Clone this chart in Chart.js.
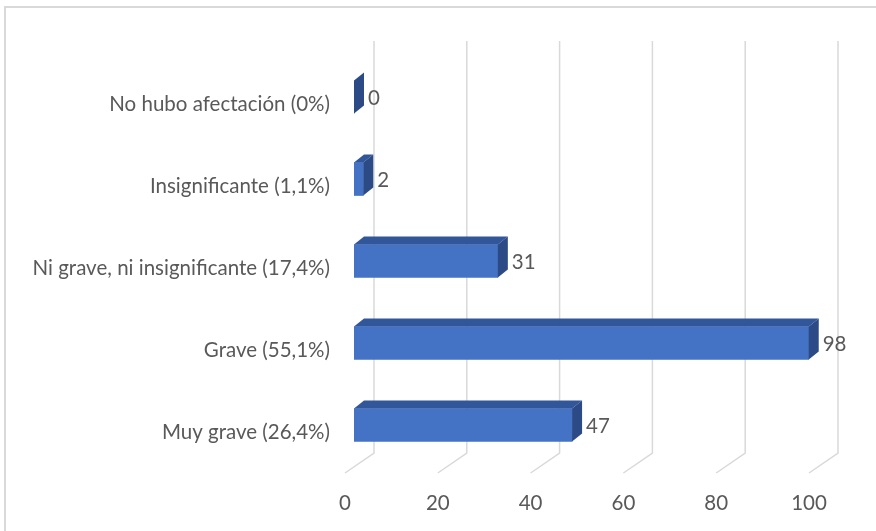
<!DOCTYPE html>
<html>
<head>
<meta charset="utf-8">
<script src="https://cdn.jsdelivr.net/npm/chart.js@4.4.0/dist/chart.umd.min.js"></script>
<style>
  html, body { margin: 0; padding: 0; background: #fff; }
  canvas { display: block; }
</style>
</head>
<body>
<canvas id="myChart" width="876" height="531"></canvas>
<script>
// datos
const categories = [
  'No hubo afectación (0%)',
  'Insignificante (1,1%)',
  'Ni grave, ni insignificante (17,4%)',
  'Grave (55,1%)',
  'Muy grave (26,4%)'
];
const values = [0, 2, 31, 98, 47];
const xTicks = [0, 20, 40, 60, 80, 100];

const textColor = '#595959';
const gridColor = '#d9d9d9';
const fontSize = 20.5;
const depthX = 10, depthY = 8;      // profundidad de las barras
const backX = 20, floorX = -9;      // desplazamiento de la rejilla 3D

// Dibuja el marco, la rejilla en perspectiva y las caras 3D de las barras
const fake3d = {
  id: 'fake3d',
  beforeDraw(chart) {
    const ctx = chart.ctx;
    ctx.save();
    ctx.strokeStyle = gridColor;
    ctx.lineWidth = 2;
    ctx.beginPath();
    ctx.moveTo(5, 531);
    ctx.lineTo(5, 7);
    ctx.lineTo(876, 7);
    ctx.stroke();
    ctx.restore();
  },
  beforeDatasetsDraw(chart) {
    const ctx = chart.ctx;
    const x = chart.scales.x;
    ctx.save();
    ctx.strokeStyle = gridColor;
    ctx.lineWidth = 1.5;
    xTicks.forEach(v => {
      const px = x.getPixelForValue(v);
      ctx.beginPath();
      ctx.moveTo(px + backX, 41);
      ctx.lineTo(px + backX, 453);
      ctx.lineTo(px + floorX, 473);
      ctx.stroke();
    });
    ctx.restore();
  },
  afterDatasetsDraw(chart) {
    const ctx = chart.ctx;
    const meta = chart.getDatasetMeta(0);
    ctx.save();
    meta.data.forEach((bar, i) => {
      const top = bar.y - bar.height / 2;
      const bottom = bar.y + bar.height / 2;
      const x0 = bar.base, x1 = bar.x;
      // cara superior
      ctx.fillStyle = '#32569a';
      ctx.beginPath();
      ctx.moveTo(x0, top);
      ctx.lineTo(x1, top);
      ctx.lineTo(x1 + depthX, top - depthY);
      ctx.lineTo(x0 + depthX, top - depthY);
      ctx.closePath();
      ctx.fill();
      // cara derecha
      ctx.fillStyle = '#2b4a86';
      ctx.beginPath();
      ctx.moveTo(x1, top);
      ctx.lineTo(x1 + depthX, top - depthY);
      ctx.lineTo(x1 + depthX, bottom - depthY);
      ctx.lineTo(x1, bottom);
      ctx.closePath();
      ctx.fill();
      // etiqueta de valor
      ctx.fillStyle = textColor;
      ctx.font = fontSize + 'px Lato';
      ctx.textAlign = 'left';
      ctx.textBaseline = 'middle';
      ctx.fillText(String(values[i]), x1 + depthX + 4, bar.y + 1);
    });
    ctx.restore();
  }
};

const ctx = document.getElementById('myChart').getContext('2d');
new Chart(ctx, {
  type: 'bar',
  data: {
    labels: categories,
    datasets: [{
      data: values,
      backgroundColor: '#4472c4',
      borderWidth: 0,
      barThickness: 33
    }]
  },
  options: {
    indexAxis: 'y',
    responsive: false,
    animation: false,
    layout: { padding: { left: 0, top: 56, right: 58, bottom: 0 } },
    plugins: {
      legend: { display: false },
      tooltip: { enabled: false }
    },
    scales: {
      x: {
        min: 0,
        max: 100,
        afterBuildTicks(scale) {
          scale.ticks = xTicks.map(v => ({ value: v }));
        },
        afterFit(scale) { scale.height = 65; },
        grid: { display: false, drawTicks: false },
        border: { display: false },
        ticks: {
          color: textColor,
          font: { family: 'Lato', size: fontSize },
          labelOffset: -9,
          padding: 25
        }
      },
      y: {
        afterFit(scale) { scale.width = 354; },
        grid: { display: false, drawTicks: false },
        border: { display: false },
        ticks: {
          color: textColor,
          font: { family: 'Lato', size: fontSize },
          labelOffset: 7,
          padding: 24
        }
      }
    }
  },
  plugins: [fake3d]
});
</script>
</body>
</html>
